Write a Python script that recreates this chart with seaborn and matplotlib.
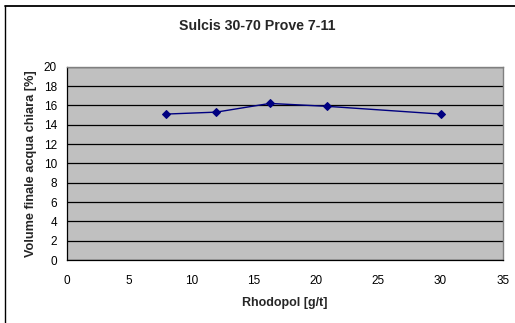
import matplotlib
matplotlib.use("Agg")
import matplotlib.pyplot as plt
from matplotlib.lines import Line2D
import pandas as pd
import seaborn as sns

# ── Data ──────────────────────────────────────────────────────────────────────
rhodopol = [8, 12, 16.3, 20.9, 30]
volume = [15.1, 15.3, 16.2, 15.9, 15.1]

X_TICKS = [0, 5, 10, 15, 20, 25, 30, 35]
Y_TICKS = [0, 2, 4, 6, 8, 10, 12, 14, 16, 18, 20]

NAVY = "#000080"
PLOT_BG = "#C0C0C0"

sns.set_style("white")
plt.rcParams["font.family"] = ["Liberation Sans", "DejaVu Sans"]

df = pd.DataFrame({"Rhodopol": rhodopol, "Volume": volume})

fig = plt.figure(figsize=(5.15, 3.23), dpi=100)
ax = fig.add_axes([0.1295, 0.195, 0.847, 0.5985])
ax.set_facecolor(PLOT_BG)

sns.lineplot(data=df, x="Rhodopol", y="Volume", ax=ax, color=NAVY,
             linewidth=1.0, marker="D", markersize=4.5,
             markeredgecolor=NAVY, markerfacecolor=NAVY)

ax.set_xlim(0, 35)
ax.set_ylim(0, 20)
ax.set_xticks(X_TICKS)
ax.set_yticks(Y_TICKS)
ax.yaxis.grid(True, color="black", linewidth=0.9)
ax.set_axisbelow(True)
ax.tick_params(axis="both", direction="out", length=4, width=0.8,
               labelsize=8.5, colors="black", pad=3)
ax.tick_params(axis="x", pad=7)

for side in ["left", "bottom"]:
    ax.spines[side].set_color("black")
    ax.spines[side].set_linewidth(0.9)
for side in ["right", "top"]:
    ax.spines[side].set_color("#808080")
    ax.spines[side].set_linewidth(1.0)

ax.set_xlabel("Rhodopol [g/t]", fontsize=9, fontweight="bold", labelpad=7)
ax.set_ylabel("Volume finale acqua chiara [%]", fontsize=9.2,
              fontweight="bold", labelpad=5)

fig.text(0.5, 1 - 26 / 323, "Sulcis 30-70 Prove 7-11", ha="center",
         va="center", fontsize=10.2, fontweight="bold")

# chart frame (only top and left edges fall inside the picture)
fig.add_artist(Line2D([5 / 515, 1], [1 - 6 / 323, 1 - 6 / 323],
                      transform=fig.transFigure, color="black", linewidth=1.3))
fig.add_artist(Line2D([5 / 515, 5 / 515], [0, 1 - 6 / 323],
                      transform=fig.transFigure, color="black", linewidth=1.0))

fig.savefig("out.png", dpi=100, facecolor="white")
